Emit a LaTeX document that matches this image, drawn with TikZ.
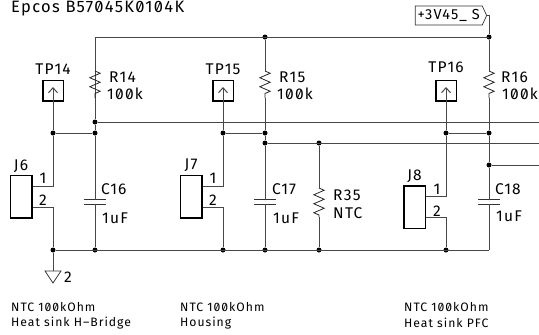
\documentclass[tikz,border=0pt]{standalone}
\usepackage{fontspec}
\setmainfont[RawFeature=+zero,LetterSpace=8]{Fira Sans}
\usetikzlibrary{arrows.meta,decorations.pathmorphing,shapes.symbols}

\begin{document}
\begin{tikzpicture}[
		x=1bp, y=-1bp,
		wire/.style = {draw=black!72, line width=1bp},
		junc/.style = {circle, fill=black, inner sep=0pt, minimum size=5bp},
		tpbox/.style = {draw, line width=1.5bp, minimum size=20.5bp, inner sep=0pt},
		jbox/.style = {draw, line width=1.5bp, minimum width=21.5bp, minimum height=42.5bp, inner sep=0pt},
		capa/.style = {minimum width=22bp, minimum height=4bp, inner sep=0pt},
		plate/.style = {draw=black!80, line width=0.8bp},
		res/.style = {draw=black!85, line width=0.8bp, decorate, decoration={zigzag, segment length=9bp, amplitude=5.2bp}},
		lab/.style = {font=\fontsize{15.5bp}{15.5bp}\selectfont, inner sep=0pt},
		note/.style = {font=\fontsize{12.2bp}{12.2bp}\selectfont, inner sep=0pt, anchor=west},
	]
	\useasboundingbox (0,0) rectangle (539,334);

	\node[lab, anchor=base west, font=\fontsize{16.5bp}{16.5bp}\selectfont] (title) at (11,12) {Epcos B57045K0104K};

	% rails
	\coordinate (top) at (95,37);
	\node[junc] (a15) at (265,37) {};
	\node[junc] (a16) at (489,37) {};
	\node[junc] (b14) at (95,122) {};
	\coordinate (e1) at (539,122);
	\node[junc] (d15) at (265,143) {};
	\node[junc] (d35) at (319,143) {};
	\coordinate (e2) at (539,143);
	\node[junc] (f16) at (489,165) {};
	\coordinate (e3) at (539,165);
	\node[junc] (g6) at (53,250) {};
	\node[junc] (g14) at (95,250) {};
	\node[junc] (g7) at (223,250) {};
	\node[junc] (g15) at (265,250) {};
	\node[junc] (g35) at (319,250) {};
	\node[junc] (g8) at (446,250) {};
	\coordinate (g16) at (489,250);
	\draw[wire] (g16 |- top) -- (top) -- (b14);
	\draw[wire] (b14) -- (e1);
	\draw[wire] (d15) -- (e2);
	\draw[wire] (f16) -- (e3);
	\draw[wire] (g6) -- (g16);

	% supply flag
	\node[draw=black!80, line width=0.7bp, signal, signal to=east, signal pointer angle=130, minimum width=71.5bp, minimum height=19bp, inner sep=0pt, font=\fontsize{14.5bp}{14.5bp}\selectfont] (flag) at (448.7,15.5) {+3V45\_ S};
	\coordinate (fl) at (489,15.5);
	\draw[wire] (flag.east) -- (fl) -- (a16);

	% test points
	\node[tpbox] (TP14) at (53,90.5) {};
	\node[tpbox] (TP15) at (223,90.5) {};
	\node[tpbox] (TP16) at (446,90.5) {};
	\node[lab] (lTP14) at (53,69) {TP14};
	\node[lab] (lTP15) at (223,69) {TP15};
	\node[lab] (lTP16) at (446,67) {TP16};
	\coordinate (u14) at (53,87);
	\coordinate (u15) at (223,87);
	\coordinate (u16) at (446,87);
	\node[junc] (t14) at (53,133) {};
	\node[junc] (t15) at (223,133) {};
	\node[junc] (t16) at (446,133) {};
	\node[junc] (c14) at (95,133) {};
	\node[junc] (c15) at (265,133) {};
	\node[junc] (c16) at (489,133) {};
	\draw[wire, -{Straight Barb[width=9bp,length=5bp]}] (t14) -- (u14);
	\draw[wire, -{Straight Barb[width=9bp,length=5bp]}] (t15) -- (u15);
	\draw[wire, -{Straight Barb[width=9bp,length=5bp]}] (t16) -- (u16);
	\draw[wire] (t14) -- (c14);
	\draw[wire] (t15) -- (c15);
	\draw[wire] (t16) -- (c16);

	% resistors
	\coordinate (r14t) at (95,71);
	\coordinate (r14b) at (95,98);
	\coordinate (r15t) at (265,71);
	\coordinate (r15b) at (265,98);
	\coordinate (r16t) at (489,71);
	\coordinate (r16b) at (489,98);
	\coordinate (r35t) at (319,188);
	\coordinate (r35b) at (319,217);
	\draw[res] (r14t) -- (r14b);
	\draw[res] (r15t) -- (r15b);
	\draw[res] (r16t) -- (r16b);
	\draw[res] (r35t) -- (r35b);
	\draw[wire] (a15) -- (r15t);
	\draw[wire] (a16) -- (r16t);
	\draw[wire] (d35) -- (r35t);
	\draw[wire] (r35b) -- (g35);
	\draw[wire] (r14b) -- (b14) -- (c14);
	\draw[wire] (r15b) -- (c15) -- (d15);
	\draw[wire] (r16b) -- (c16) -- (f16);
	\node[lab, anchor=west] (lR14) at (109,77) {R14};
	\node[lab, anchor=west] (vR14) at (107,94) {100k};
	\node[lab, anchor=west] (lR15) at (279,77) {R15};
	\node[lab, anchor=west] (vR15) at (277,94) {100k};
	\node[lab, anchor=west] (lR16) at (501,77) {R16};
	\node[lab, anchor=west] (vR16) at (502,94) {100k};
	\node[lab, anchor=west] (lR35) at (333,195) {R35};
	\node[lab, anchor=west] (vR35) at (333,213) {NTC};

	% capacitors
	\node[capa] (C16) at (95,202) {};
	\node[capa] (C17) at (265,202) {};
	\node[capa] (C18) at (489,202) {};
	\draw[plate] (C16.north west) -- (C16.north east);
	\draw[plate] (C16.south west) -- (C16.south east);
	\draw[plate] (C17.north west) -- (C17.north east);
	\draw[plate] (C17.south west) -- (C17.south east);
	\draw[plate] (C18.north west) -- (C18.north east);
	\draw[plate] (C18.south west) -- (C18.south east);
	\draw[wire] (c14) -- (C16.north);
	\draw[wire] (C16.south) -- (g14);
	\draw[wire] (d15) -- (C17.north);
	\draw[wire] (C17.south) -- (g15);
	\draw[wire] (f16) -- (C18.north);
	\draw[wire] (C18.south) -- (g16);
	\node[lab, anchor=west] (lC16) at (101,189) {C16};
	\node[lab, anchor=west] (vC16) at (102,218) {1uF};
	\node[lab, anchor=west] (lC17) at (272,189) {C17};
	\node[lab, anchor=west] (vC17) at (273,218) {1uF};
	\node[lab, anchor=west] (lC18) at (495,189) {C18};
	\node[lab, anchor=west] (vC18) at (496,216) {1uF};

	% connectors
	\node[jbox] (J6) at (21,196.5) {};
	\node[jbox] (J7) at (191,196.5) {};
	\node[jbox] (J8) at (414.5,207) {};
	\coordinate (p61) at (J6.east |- 0,186);
	\coordinate (p62) at (J6.east |- 0,207);
	\coordinate (p71) at (J7.east |- 0,186);
	\coordinate (p72) at (J7.east |- 0,207);
	\coordinate (p81) at (J8.east |- 0,196);
	\coordinate (p82) at (J8.east |- 0,217);
	\draw[wire] (t14) |- (p61);
	\draw[wire] (p62) -| (g6);
	\draw[wire] (t15) |- (p71);
	\draw[wire] (p72) -| (g7);
	\draw[wire] (t16) |- (p81);
	\draw[wire] (p82) -| (g8);
	\node[lab] (lJ6) at (21,166) {J6};
	\node[lab] (lJ7) at (191,165) {J7};
	\node[lab] (lJ8) at (414.5,176) {J8};
	\node[lab] (n61) at (43,178) {1};
	\node[lab] (n62) at (43,200) {2};
	\node[lab] (n71) at (213,178) {1};
	\node[lab] (n72) at (213,200) {2};
	\node[lab] (n81) at (437,189) {1};
	\node[lab] (n82) at (437,211) {2};

	% ground
	\coordinate (gnd) at (53,271);
	\coordinate (gl) at (45,271);
	\coordinate (gr) at (61,271);
	\coordinate (gt) at (53,283);
	\draw[wire] (g6) -- (gnd);
	\draw[plate] (gl) -- (gr) -- (gt) -- cycle;
	\node[lab] (lgnd) at (68,277) {2};

	% notes
	\node[note] (n1a) at (11,307) {NTC 100kOhm};
	\node[note] (n1b) at (11,323) {Heat sink H--Bridge};
	\node[note] (n2a) at (180,307) {NTC 100kOhm};
	\node[note] (n2b) at (180,323) {Housing};
	\node[note] (n3a) at (404,307) {NTC 100kOhm};
	\node[note] (n3b) at (404,323) {Heat sink PFC};
\end{tikzpicture}
\end{document}
